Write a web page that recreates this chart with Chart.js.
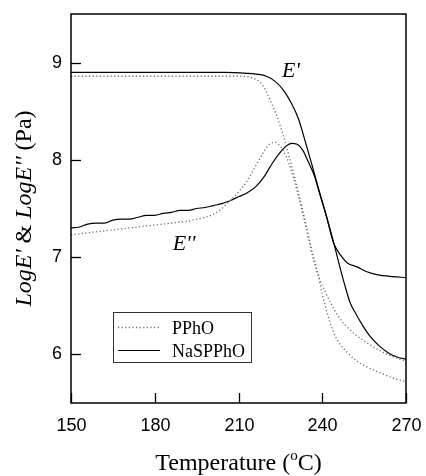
<!DOCTYPE html>
<html>
<head>
<meta charset="utf-8">
<script src="https://cdn.jsdelivr.net/npm/chart.js@4"></script>
<style>
  html, body { margin: 0; padding: 0; background: #fff; }
  #wrap { width: 426px; height: 476px; }
</style>
</head>
<body>
<div id="wrap"><canvas id="chart" width="426" height="476"></canvas></div>
<script>
// axis ticks
const xTicks = [150, 180, 210, 240, 270];
const yTicks = [6, 7, 8, 9];

// PPhO, storage modulus E' (log Pa)
const tempStoragePPhO = [150, 170, 190, 210, 214, 216, 218, 220, 222, 224, 226, 228, 230, 232, 234, 236, 238, 240, 242, 244, 246, 249, 252, 256, 260, 265, 270];
const logStoragePPhO = [8.86, 8.86, 8.86, 8.86, 8.85, 8.83, 8.79, 8.70, 8.57, 8.43, 8.25, 8.05, 7.83, 7.60, 7.36, 7.10, 6.88, 6.62, 6.40, 6.23, 6.12, 6.02, 5.94, 5.87, 5.82, 5.76, 5.72];

// PPhO, loss modulus E''
const tempLossPPhO = [150, 153, 156, 159, 162, 165, 168, 171, 174, 177, 180, 183, 186, 189, 192, 195, 198, 201, 204, 207, 210, 213, 216, 219, 221, 223, 225, 227, 229, 231, 233, 235, 237, 239, 241, 243, 246, 249, 252, 256, 260, 265, 270];
const logLossPPhO = [7.23, 7.24, 7.25, 7.26, 7.27, 7.28, 7.29, 7.30, 7.31, 7.32, 7.33, 7.34, 7.35, 7.36, 7.37, 7.39, 7.41, 7.44, 7.50, 7.58, 7.67, 7.78, 7.93, 8.08, 8.16, 8.18, 8.14, 8.04, 7.88, 7.68, 7.45, 7.20, 6.96, 6.78, 6.65, 6.53, 6.38, 6.28, 6.20, 6.12, 6.05, 5.98, 5.93];

// NaSPPhO, storage modulus E'
const tempStorageNa = [150, 170, 190, 205, 213, 217, 220, 223, 226, 229, 231.5, 234, 236.5, 239, 241.5, 244, 246.3, 249, 252.4, 256, 259.6, 265, 270];
const logStorageNa = [8.90, 8.90, 8.90, 8.90, 8.89, 8.88, 8.86, 8.81, 8.72, 8.58, 8.42, 8.18, 7.93, 7.67, 7.42, 7.15, 7.03, 6.94, 6.90, 6.85, 6.82, 6.80, 6.79];

// NaSPPhO, loss modulus E''
const tempLossNa = [150, 153, 156, 159, 162, 165, 168, 171, 174, 177, 180, 183, 186, 189, 192, 195, 198, 201, 204, 207, 210, 213, 216, 219, 222, 225, 227, 229, 231, 233, 235, 237, 239, 241.5, 244, 246.3, 248, 250, 252, 254.6, 257, 260.7, 264, 267, 270];
const logLossNa = [7.30, 7.31, 7.34, 7.35, 7.35, 7.38, 7.39, 7.39, 7.41, 7.43, 7.43, 7.45, 7.46, 7.48, 7.48, 7.50, 7.51, 7.53, 7.55, 7.58, 7.62, 7.66, 7.72, 7.82, 7.96, 8.08, 8.14, 8.17, 8.16, 8.10, 7.98, 7.85, 7.66, 7.42, 7.16, 6.90, 6.72, 6.53, 6.42, 6.29, 6.19, 6.08, 6.01, 5.97, 5.95];

// legend entries and curve labels
const legendLabels = ["PPhO", "NaSPPhO"];
const curveLabels = [
  { text: "E'", x: 228.8, y: 8.853 },
  { text: "E''", x: 190.5, y: 7.077 },
];

const toPoints = (xs, ys) => xs.map((x, i) => ({ x, y: ys[i] }));

const dotted = { borderColor: "#6a6a6a", borderWidth: 1.3, borderDash: [1.2, 2.4] };
const solid = { borderColor: "#000", borderWidth: 1.2, borderDash: [] };

const serif = "'Liberation Serif', 'Times New Roman', serif";
const sans = "'Liberation Sans', Arial, sans-serif";

// draw several text runs one after another, centred on x
const drawRuns = (ctx, runs, x, y) => {
  let total = 0;
  runs.forEach((p) => {
    ctx.font = p.f;
    p.w = ctx.measureText(p.t).width;
    total += p.w;
  });
  let cx = x - total / 2;
  runs.forEach((p) => {
    ctx.font = p.f;
    ctx.fillText(p.t, cx, y + (p.dy || 0));
    cx += p.w;
  });
};

const frameAndText = {
  id: "frameAndText",
  afterDraw(chart) {
    const { ctx, chartArea: a, scales } = chart;
    const xs = scales.x;
    const ys = scales.y;
    ctx.save();

    // frame
    ctx.strokeStyle = "#000";
    ctx.lineWidth = 1.5;
    ctx.strokeRect(a.left, a.top, a.right - a.left, a.bottom - a.top);

    // inward tick marks and tick labels
    ctx.lineWidth = 1.3;
    ctx.fillStyle = "#000";
    ctx.font = "18px " + sans;
    ctx.textAlign = "center";
    ctx.textBaseline = "middle";
    xTicks.forEach((v) => {
      const px = Math.round(xs.getPixelForValue(v)) + 0.5;
      ctx.beginPath();
      ctx.moveTo(px, a.bottom);
      ctx.lineTo(px, a.bottom - 10);
      ctx.stroke();
      ctx.fillText(String(v), px, a.bottom + 23);
    });
    ctx.textAlign = "right";
    yTicks.forEach((v) => {
      const py = Math.round(ys.getPixelForValue(v)) + 0.5;
      ctx.beginPath();
      ctx.moveTo(a.left, py);
      ctx.lineTo(a.left + 10, py);
      ctx.stroke();
      ctx.fillText(String(v), a.left - 9, py);
    });

    ctx.textBaseline = "alphabetic";
    ctx.textAlign = "left";

    // y title, mixed italic / upright
    ctx.save();
    ctx.translate(31, (a.top + a.bottom) / 2);
    ctx.rotate(-Math.PI / 2);
    drawRuns(ctx, [
      { t: "LogE'", f: "italic 24px " + serif },
      { t: " & ", f: "24px " + serif },
      { t: "LogE''", f: "italic 24px " + serif },
      { t: " (Pa)", f: "24px " + serif },
    ], 0, 0);
    ctx.restore();

    // x title with superscript o
    drawRuns(ctx, [
      { t: "Temperature (", f: "24px " + serif },
      { t: "o", f: "15px " + serif, dy: -10 },
      { t: "C)", f: "24px " + serif },
    ], (a.left + a.right) / 2, 470);

    // curve labels
    ctx.font = "italic 22px " + serif;
    ctx.textAlign = "center";
    curveLabels.forEach((l) => {
      ctx.fillText(l.text, xs.getPixelForValue(l.x), ys.getPixelForValue(l.y));
    });

    // legend box
    const bx = a.left + 42;
    const by = a.top + 298;
    ctx.lineWidth = 1;
    ctx.strokeStyle = "#333";
    ctx.strokeRect(bx + 0.5, by + 0.5, 138, 50);
    const styles = [dotted, solid];
    legendLabels.forEach((label, i) => {
      const ly = by + 15.5 + i * 23;
      const st = styles[i];
      ctx.strokeStyle = st.borderColor;
      ctx.lineWidth = st.borderWidth;
      ctx.setLineDash(st.borderDash);
      ctx.beginPath();
      ctx.moveTo(bx + 5, ly);
      ctx.lineTo(bx + 47, ly);
      ctx.stroke();
      ctx.setLineDash([]);
      ctx.font = "18px " + serif;
      ctx.textAlign = "left";
      ctx.fillStyle = "#000";
      ctx.fillText(label, bx + 59, ly + 6);
    });

    ctx.restore();
  },
};

new Chart(document.getElementById("chart"), {
  type: "line",
  data: {
    datasets: [
      { label: "PPhO E'", data: toPoints(tempStoragePPhO, logStoragePPhO), ...dotted },
      { label: "PPhO E''", data: toPoints(tempLossPPhO, logLossPPhO), ...dotted },
      { label: "NaSPPhO E'", data: toPoints(tempStorageNa, logStorageNa), ...solid },
      { label: "NaSPPhO E''", data: toPoints(tempLossNa, logLossNa), ...solid },
    ],
  },
  options: {
    responsive: false,
    devicePixelRatio: 1,
    animation: false,
    layout: { padding: { left: 0, right: 20, top: 14, bottom: 0 } },
    elements: {
      point: { radius: 0 },
      line: { cubicInterpolationMode: "monotone", fill: false },
    },
    plugins: {
      legend: { display: false },
      tooltip: { enabled: false },
    },
    scales: {
      x: {
        type: "linear",
        min: 150,
        max: 270,
        afterBuildTicks: (s) => { s.ticks = xTicks.map((v) => ({ value: v })); },
        afterFit: (s) => { s.height = 73; },
        grid: { display: false, drawTicks: false },
        border: { display: false },
        ticks: { display: false },
      },
      y: {
        min: 5.5,
        max: 9.5,
        afterBuildTicks: (s) => { s.ticks = yTicks.map((v) => ({ value: v })); },
        afterFit: (s) => { s.width = 71; },
        grid: { display: false, drawTicks: false },
        border: { display: false },
        ticks: { display: false },
      },
    },
  },
  plugins: [frameAndText],
});
</script>
</body>
</html>
